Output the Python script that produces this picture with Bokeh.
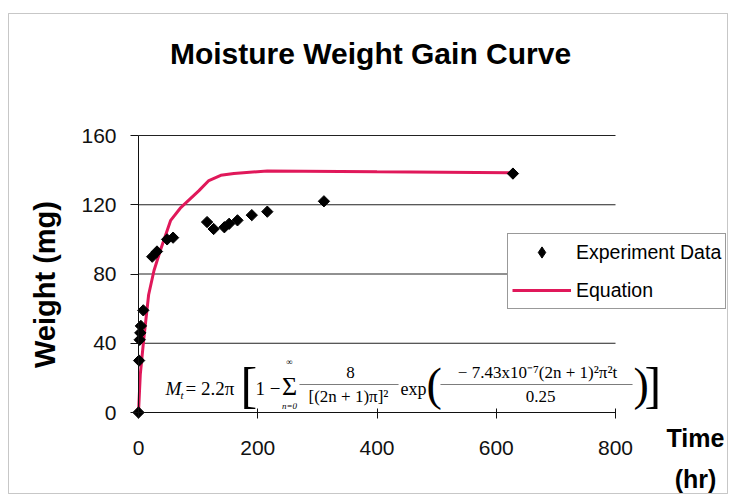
import math
from bokeh.plotting import figure
from bokeh.models import Range1d, Label, BoxAnnotation, Legend, LegendItem, FixedTicker
from bokeh.embed import file_html
from bokeh.resources import INLINE

# ---- data ----
time_exp = [0, 1, 2, 3, 4, 8, 23, 31, 48, 58, 115, 126, 144, 152, 166, 190, 216, 311, 628]
weight_exp = [0, 30, 42, 46, 50, 59, 90, 93, 100, 101, 110, 106, 107, 109, 111, 114, 116, 122, 138]
time_eq = [0, 3, 9, 17, 26, 37, 54, 70, 101, 118, 138, 160, 216, 400, 628]
weight_eq = [0, 22, 43, 68, 82, 94, 111, 118, 128, 134, 137, 138, 139.5, 139, 138.5]
x_ticks = [0, 200, 400, 600, 800]
y_ticks = [0, 40, 80, 120, 160]
title_text = "Moisture Weight Gain Curve"
y_label = "Weight (mg)"
x_label_lines = ["Time", "(hr)"]
legend_labels = ["Experiment Data", "Equation"]

W, H = 729, 496
# pixel positions of the axis ends (the plotting area of the original chart)
PXL, PXR, PYT, PYB = 138, 615, 135, 412

def dx(px):
    return x_ticks[0] + (px - PXL) / (PXR - PXL) * (x_ticks[-1] - x_ticks[0])

def dy(py):
    return y_ticks[0] + (PYB - py) / (PYB - PYT) * (y_ticks[-1] - y_ticks[0])

# the frame covers the whole canvas; axes are pinned at the data origin
p = figure(width=W, height=H, x_range=Range1d(dx(0), dx(W)), y_range=Range1d(dy(H), dy(0)),
           output_backend="svg", toolbar_location=None,
           min_border_left=0, min_border_right=0, min_border_top=0, min_border_bottom=0)
p.background_fill_color = "white"
p.border_fill_color = "white"
p.outline_line_color = None
p.xgrid.visible = False
p.ygrid.visible = False

for ax in (p.xaxis[0], p.yaxis[0]):
    ax.fixed_location = 0
    ax.axis_line_color = "#111111"
    ax.axis_line_width = 1
    ax.major_tick_line_color = "#111111"
    ax.minor_tick_line_color = None
    ax.major_label_text_font = "Liberation Sans"
    ax.major_label_text_font_size = "21px"
    ax.major_label_text_color = "#111111"

p.xaxis.ticker = FixedTicker(ticks=x_ticks)
p.xaxis.bounds = (x_ticks[0], x_ticks[-1])
p.xaxis.major_tick_in = 4
p.xaxis.major_tick_out = 6
p.xaxis.major_label_standoff = 22

p.yaxis.ticker = FixedTicker(ticks=y_ticks)
p.yaxis.bounds = (y_ticks[0], y_ticks[-1])
p.yaxis.major_tick_in = 0
p.yaxis.major_tick_out = 8
p.yaxis.major_label_standoff = 14

# horizontal grid lines across the plotting area, one per y tick
n = len(y_ticks)
p.segment(x0=[x_ticks[0]] * n, y0=y_ticks, x1=[x_ticks[-1]] * n, y1=y_ticks,
          line_color="#222222", line_width=1)

r_eq = p.line(time_eq, weight_eq, line_color="#e0185a", line_width=3)
r_exp = p.scatter(time_exp, weight_exp, marker="square", angle=math.pi / 4, size=8,
                  fill_color="black", line_color="black")
# legend swatch for the data series (legend markers are drawn unrotated, so a
# diamond marker is used; it sits inside the last data point's marker)
r_key = p.scatter(time_exp[-1:], weight_exp[-1:], marker="diamond", size=10,
                  fill_color="black", line_color="black")

legend = Legend(items=[LegendItem(label=legend_labels[0], renderers=[r_key]),
                       LegendItem(label=legend_labels[1], renderers=[r_eq])],
                location=(507, H - 309), orientation="vertical")
legend.label_text_font = "Liberation Sans"
legend.label_text_font_size = "19.5px"
legend.label_text_color = "black"
legend.glyph_width = 59
legend.glyph_height = 28
legend.label_height = 28
legend.label_standoff = 5
legend.spacing = 10
legend.padding = 4
legend.margin = 0
legend.border_line_color = "#333333"
legend.border_line_width = 1
legend.background_fill_color = "white"
legend.background_fill_alpha = 1
p.add_layout(legend)

# outer chart border
p.add_layout(BoxAnnotation(left=dx(8), right=dx(727), top=dy(13), bottom=dy(493),
                           fill_alpha=0, line_color="#444444", line_width=1))

def lab(text, px, py, size, font="Liberation Sans", style="normal", align="center",
        baseline="middle", angle=0.0, color="black"):
    p.add_layout(Label(x=dx(px), y=dy(py), text=text, text_font=font,
                       text_font_size=f"{size}px", text_font_style=style,
                       text_align=align, text_baseline=baseline, angle=angle,
                       text_color=color))

# title and axis titles
lab(title_text, 370, 53, 30, style="bold")
lab(y_label, 44, 284, 29, style="bold", angle=math.pi / 2)
lab(x_label_lines[0], 695, 437, 25, style="bold", baseline="alphabetic")
lab(x_label_lines[1], 695, 478, 25, style="bold", baseline="alphabetic")

# equation
SER = "Liberation Serif"
lab("M", 165, 388, 19, font=SER, style="italic", align="left")
lab("t", 180, 394, 11, font=SER, style="italic", align="left")
lab("= 2.2\u03c0", 185, 388, 19, font=SER, align="left")
lab("[", 240, 384, 50, font=SER, align="left")
lab("1 \u2212", 255, 388, 19, font=SER, align="left")
lab("\u03a3", 289, 386, 26, font=SER)
lab("\u221e", 289, 361, 9, font=SER)
lab("n=0", 289, 405, 9, font=SER, style="italic")
lab("8", 350, 372, 17, font=SER)
p.add_layout(BoxAnnotation(left=dx(299), right=dx(398), top=dy(384), bottom=dy(384),
                           fill_alpha=0, line_color="black", line_width=1))
lab("[(2n + 1)\u03c0]\u00b2", 348, 396, 17, font=SER)
lab("exp", 400, 388, 18, font=SER, align="left")
lab("(", 426, 384, 46, font=SER, align="left")
lab("\u2212 7.43x10\u207b\u2077(2n + 1)\u00b2\u03c0\u00b2t", 537, 372, 17, font=SER)
p.add_layout(BoxAnnotation(left=dx(440), right=dx(632), top=dy(384), bottom=dy(384),
                           fill_alpha=0, line_color="black", line_width=1))
lab("0.25", 540, 396, 17, font=SER)
lab(")", 633, 384, 46, font=SER, align="left")
lab("]", 644, 384, 50, font=SER, align="left")

open("out.html", "w").write(file_html(p, INLINE))
